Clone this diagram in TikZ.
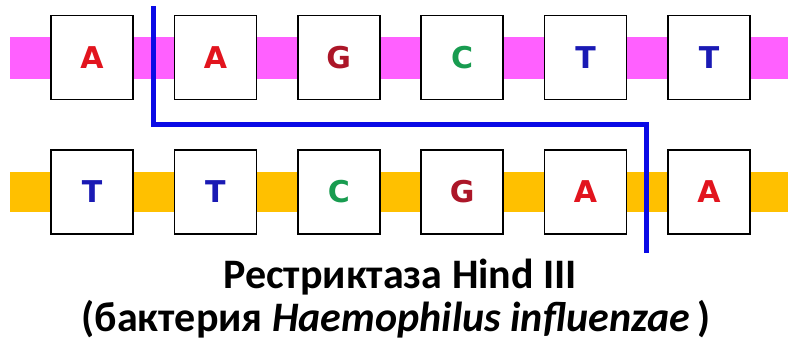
\documentclass[tikz,border=0pt]{standalone}
\usepackage{fontspec}
\setmainfont{Carlito}
\newfontfamily\basefont{DejaVu Sans}
\begin{document}
\begin{tikzpicture}[x=1pt,y=-1pt,
  base/.style={draw=black,line width=1.6pt,fill=white,minimum width=82pt,minimum height=84pt,
    inner sep=0pt,font=\basefont\bfseries\fontsize{30}{30}\selectfont},
  caption/.style={font=\bfseries\fontsize{42}{42}\selectfont,inner sep=0pt,anchor=base}]
\definecolor{cA}{RGB}{226,20,30}
\definecolor{cG}{RGB}{172,22,40}
\definecolor{cC}{RGB}{24,156,80}
\definecolor{cT}{RGB}{26,26,180}
\definecolor{pinkband}{RGB}{255,96,255}
\definecolor{orangeband}{RGB}{255,192,0}
\definecolor{cutblue}{RGB}{10,10,230}
\useasboundingbox (0,0) rectangle (788,349);
% strands
\fill[pinkband] (10,37) rectangle (788,79);
\fill[orangeband] (10,172) rectangle (788,212);
% top strand bases
\foreach \i/\b/\c in {0/A/cA,1/A/cA,2/G/cG,3/C/cC,4/T/cT,5/T/cT}
  \node[base,text=\c] (t\i) at (92+123.4*\i,57.5) {\b};
% bottom strand bases
\foreach \i/\b/\c in {0/T/cT,1/T/cT,2/C/cC,3/G/cG,4/A/cA,5/A/cA}
  \node[base,text=\c] (b\i) at (92+123.4*\i,192) {\b};
% staggered cut line
\coordinate (c1) at (153,6);
\coordinate (ck) at (646,124);
\coordinate (c2) at (646,253);
\draw[cutblue,line width=5pt,line join=miter] (c1) |- (ck) -- (c2);
% captions
\node[caption] (l1) at (400,288) {Рестриктаза Hind III};
\node[caption] (l2) at (396,331) {(бактерия \textit{Haemophilus influenzae}\,)};
\end{tikzpicture}
\end{document}
